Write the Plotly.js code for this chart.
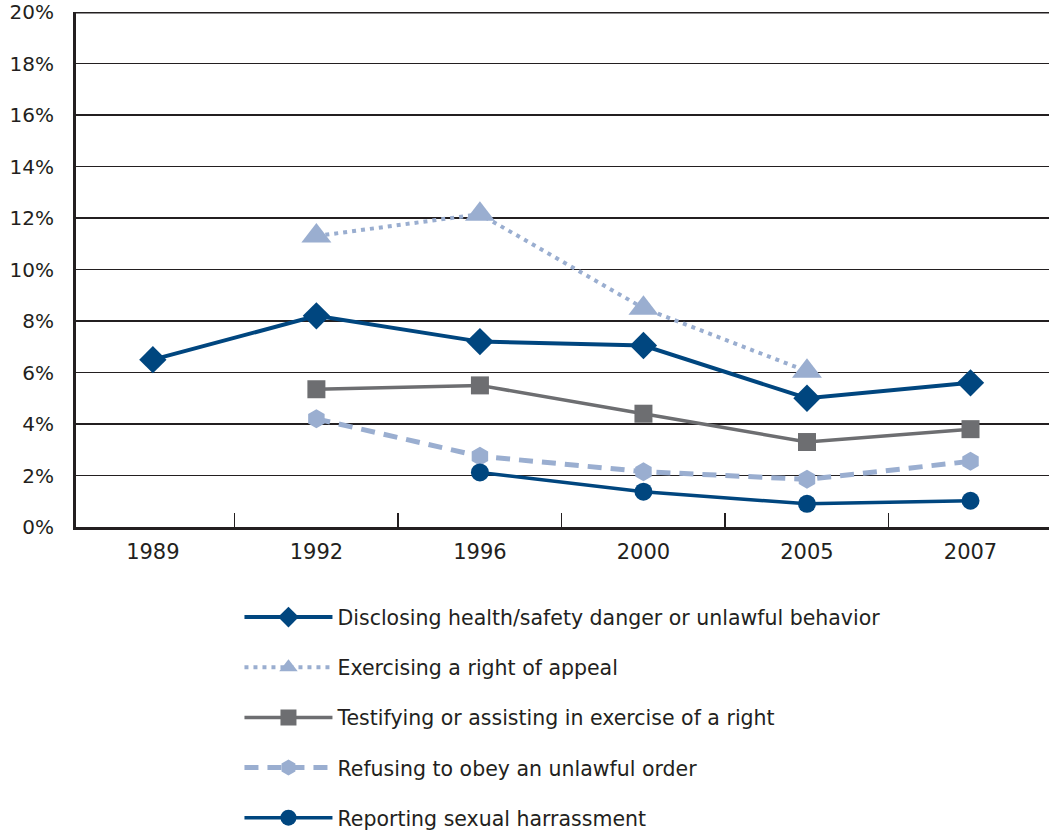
<!DOCTYPE html>
<html>
<head>
<meta charset="utf-8">
<script src="https://cdn.plot.ly/plotly-3.0.1.min.js"></script>
<style>
  html, body { margin: 0; padding: 0; background: #ffffff; }
  #chart { width: 1049px; height: 833px; }
</style>
</head>
<body>
<div id="chart"></div>
<script>
const years = ["1989", "1992", "1996", "2000", "2005", "2007"];
const yTickVals = [0, 2, 4, 6, 8, 10, 12, 14, 16, 18, 20];
const yTickText = ["0%", "2%", "4%", "6%", "8%", "10%", "12%", "14%", "16%", "18%", "20%"];

const seriesNames = [
  "Disclosing health/safety danger or unlawful behavior",
  "Exercising a right of appeal",
  "Testifying or assisting in exercise of a right",
  "Refusing to obey an unlawful order",
  "Reporting sexual harrassment"
];
const disclosing = [6.5, 8.2, 7.2, 7.05, 5.0, 5.6];
const appeal     = [null, 11.3, 12.15, 8.5, 6.05, null];
const testifying = [null, 5.35, 5.5, 4.4, 3.3, 3.8];
const refusing   = [null, 4.2, 2.75, 2.15, 1.85, 2.55];
const reporting  = [null, null, 2.12, 1.37, 0.9, 1.02];

const darkBlue = "#00467F";
const lightBlue = "#9AAED0";
const gray = "#6D6E71";
const ink = "#231F20";
const font = "DejaVu Sans, Noto Sans, sans-serif";

const traces = [
  {name: seriesNames[0], y: disclosing, color: darkBlue, dash: "solid", width: 4, symbol: "diamond", size: 21},
  {name: seriesNames[1], y: appeal, color: lightBlue, dash: "4px,5px", width: 4, symbol: "triangle-up", size: 26},
  {name: seriesNames[2], y: testifying, color: gray, dash: "solid", width: 3.5, symbol: "square", size: 18},
  {name: seriesNames[3], y: refusing, color: lightBlue, dash: "14px,9px", width: 5, symbol: "hexagon", size: 19},
  {name: seriesNames[4], y: reporting, color: darkBlue, dash: "solid", width: 3.5, symbol: "circle", size: 18}
].map((s, i) => ({
  type: "scatter",
  mode: "lines+markers",
  x: years,
  y: s.y,
  name: s.name,
  legendgroup: "g" + i,
  connectgaps: false,
  line: {color: s.color, width: s.width, dash: s.dash},
  marker: {color: s.color, symbol: s.symbol, size: s.size, line: {width: 0}},
  hoverinfo: "x+y+name"
}));

const layout = {
  width: 1049,
  height: 833,
  paper_bgcolor: "#ffffff",
  plot_bgcolor: "#ffffff",
  margin: {l: 76, r: 0, t: 12, b: 306},
  font: {family: font, color: ink, size: 20},
  showlegend: true,
  legend: {
    orientation: "v",
    xref: "paper",
    yref: "container",
    x: 0.168,
    xanchor: "left",
    y: 0.283,
    yanchor: "top",
    itemwidth: 88,
    tracegroupgap: 20.5,
    font: {family: font, size: 20.5, color: ink},
    bgcolor: "rgba(0,0,0,0)"
  },
  xaxis: {
    type: "category",
    categoryorder: "array",
    categoryarray: years,
    range: [-0.47, 5.48],
    showline: true,
    linecolor: ink,
    linewidth: 3,
    showgrid: false,
    zeroline: false,
    ticks: "inside",
    tickson: "boundaries",
    ticklen: 14,
    tickwidth: 1.5,
    tickcolor: ink,
    ticklabelstandoff: 4,
    tickfont: {family: font, size: 21, color: ink},
    fixedrange: true
  },
  yaxis: {
    range: [0, 20.002],
    tickvals: yTickVals,
    ticktext: yTickText,
    showline: true,
    linecolor: ink,
    linewidth: 3,
    showgrid: true,
    gridcolor: ink,
    gridwidth: 1.5,
    zeroline: false,
    ticks: "",
    ticklabelstandoff: 15,
    tickfont: {family: font, size: 20, color: ink},
    fixedrange: true
  },
  shapes: [
    {type: "line", xref: "paper", yref: "y", x0: 0, x1: 1, y0: 20, y1: 20, line: {color: ink, width: 3}}
  ]
};

Plotly.newPlot("chart", traces, layout, {displayModeBar: false, staticPlot: true});
</script>
</body>
</html>
